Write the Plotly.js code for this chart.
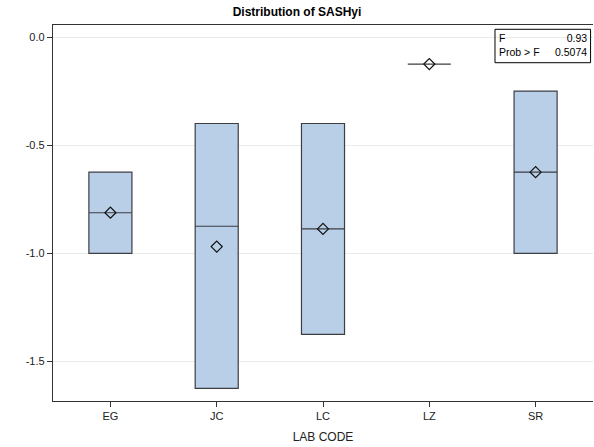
<!DOCTYPE html>
<html>
<head>
<meta charset="utf-8">
<script src="https://cdn.plot.ly/plotly-3.0.1.min.js"></script>
<style>html,body{margin:0;padding:0;background:#fff;}#chart{width:594px;height:447px;}</style>
</head>
<body>
<div id="chart"></div>
<script>
const labCodes = ["EG", "JC", "LC", "LZ", "SR"];
const q1Values = [-1.0, -1.625, -1.375, -0.125, -1.0];
const medianValues = [-0.8125, -0.875, -0.8875, -0.125, -0.625];
const q3Values = [-0.625, -0.40, -0.40, -0.125, -0.25];
const minValues = [-1.0, -1.625, -1.375, -0.125, -1.0];
const maxValues = [-0.625, -0.40, -0.40, -0.125, -0.25];
const meanValues = [-0.8125, -0.969, -0.8875, -0.125, -0.625];
const yTickVals = [0.0, -0.5, -1.0, -1.5];
const yTickText = ["0.0", "-0.5", "-1.0", "-1.5"];
const fStat = "0.93";
const probF = "0.5074";

const font = "'Liberation Sans', Arial, sans-serif";

const boxTrace = {
  type: "box",
  x: labCodes,
  q1: q1Values,
  median: medianValues,
  q3: q3Values,
  lowerfence: minValues,
  upperfence: maxValues,
  boxpoints: false,
  width: 0.405,
  whiskerwidth: 0.7,
  fillcolor: "#b9cfe7",
  line: {color: "#3c3e44", width: 1.2},
  showlegend: false,
  hoverinfo: "skip"
};

const meanTrace = {
  type: "scatter",
  mode: "markers",
  x: labCodes,
  y: meanValues,
  marker: {symbol: "diamond-open", size: 8.5, color: "#111", line: {width: 1.2, color: "#111"}},
  showlegend: false,
  hoverinfo: "skip"
};

const layout = {
  width: 594,
  height: 447,
  margin: {l: 53, r: 1, t: 25, b: 46},
  paper_bgcolor: "#fff",
  plot_bgcolor: "#fff",
  font: {family: font, size: 11, color: "#222"},
  title: {text: "<b>Distribution of SASHyi</b>", x: 0.5, y: 0.982, yanchor: "top",
          font: {family: font, size: 12, color: "#000"}},
  xaxis: {
    type: "category",
    range: [-0.54, 4.54],
    showline: true, mirror: true, linecolor: "#333", linewidth: 1.2,
    ticks: "outside", ticklen: 5, tickcolor: "#333",
    showgrid: false, zeroline: false,
    tickfont: {family: font, size: 11, color: "#222"},
    title: {text: "LAB CODE", standoff: 11, font: {family: font, size: 12, color: "#222"}}
  },
  yaxis: {
    range: [-1.683, 0.0555],
    showline: true, linecolor: "#333", linewidth: 1.2,
    ticks: "outside", ticklen: 5, tickcolor: "#333",
    tickvals: yTickVals, ticktext: yTickText,
    showgrid: true, gridcolor: "#ebebeb", gridwidth: 1,
    zeroline: false,
    tickfont: {family: font, size: 11, color: "#222"}
  },
  shapes: [
    {type: "rect", xref: "paper", yref: "paper", x0: 0.8185, x1: 0.9955, y0: 0.8997, y1: 0.9886,
     line: {color: "#000", width: 1}, fillcolor: "rgba(255,255,255,0)"}
  ],
  annotations: [
    {xref: "paper", yref: "paper", x: 0.8225, y: 0.9855, xanchor: "left", yanchor: "top",
     text: "F<br>Prob > F", align: "left", showarrow: false,
     font: {family: font, size: 10.5, color: "#000"}},
    {xref: "paper", yref: "paper", x: 0.9925, y: 0.9855, xanchor: "right", yanchor: "top",
     text: fStat + "<br>" + probF, align: "right", showarrow: false,
     font: {family: font, size: 10.5, color: "#000"}}
  ]
};

Plotly.newPlot("chart", [boxTrace, meanTrace], layout, {displayModeBar: false, staticPlot: true});
</script>
</body>
</html>
